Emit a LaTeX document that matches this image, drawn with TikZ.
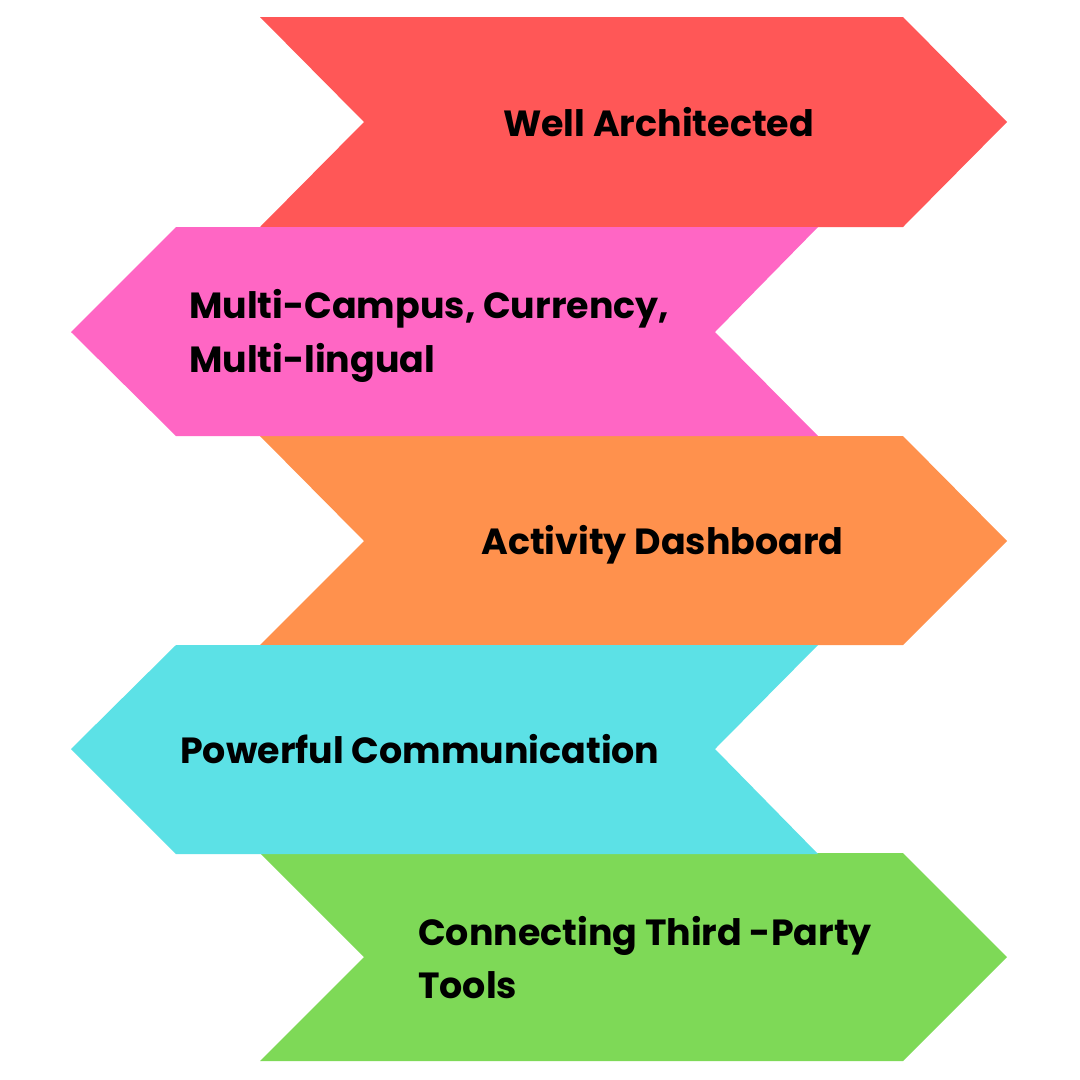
\documentclass[tikz,border=0pt]{standalone}
\usepackage{fontspec}
\setmainfont{Poppins}
\definecolor{cred}{HTML}{FF5757}
\definecolor{cpink}{HTML}{FF66C4}
\definecolor{corange}{HTML}{FF914D}
\definecolor{ccyan}{HTML}{5CE1E6}
\definecolor{cgreen}{HTML}{7ED957}
\begin{document}
\begin{tikzpicture}[x=1pt,y=-1pt,
  lbl/.style={anchor=west,inner sep=0pt,text height=27pt,text depth=0pt,font=\bfseries\fontsize{36.4}{44}\selectfont,text=black}]
\useasboundingbox (0,0) rectangle (1080,1080);
\fill[white] (0,0) rectangle (1080,1080);
% right-pointing chevrons
\fill[cred] (260,17) -- (903,17) -- (1007,122) -- (903,227) -- (260,227) -- (364,122) -- cycle;
\fill[corange] (260,436) -- (903,436) -- (1007,541) -- (903,645) -- (260,645) -- (364,541) -- cycle;
\fill[cgreen] (260,853) -- (903,853) -- (1007,957) -- (903,1061) -- (260,1061) -- (364,957) -- cycle;
% left-pointing chevrons
\fill[cpink] (176,227) -- (818,227) -- (715,332) -- (818,436) -- (176,436) -- (71,332) -- cycle;
\fill[ccyan] (176,645) -- (818,645) -- (715,749) -- (818,854) -- (176,854) -- (71,749) -- cycle;
% labels
\node[lbl] (t1) at (503,123) {Well Architected};
\node[lbl] (t2a) at (189,304.5) {Multi-Campus, Currency,};
\node[lbl] (t2b) at (189,358.5) {Multi-lingual};
\node[lbl] (t3) at (481,541) {Activity Dashboard};
\node[lbl] (t4) at (180,750) {Powerful Communication};
\node[lbl] (t5a) at (418,931.5) {Connecting Third -Party};
\node[lbl] (t5b) at (418,984.5) {Tools};
\end{tikzpicture}
\end{document}
